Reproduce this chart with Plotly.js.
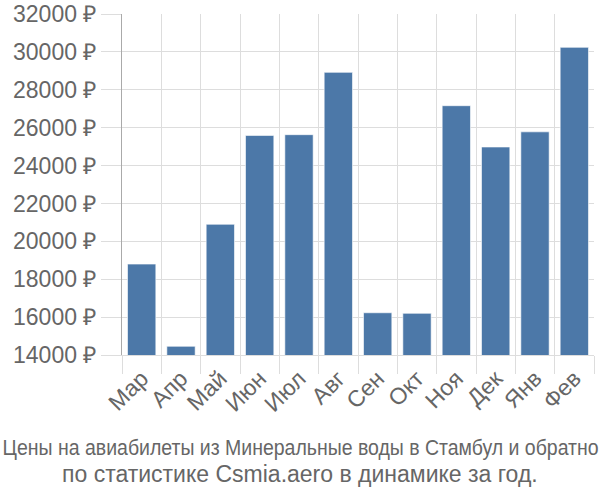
<!DOCTYPE html>
<html><head><meta charset="utf-8">
<script src="https://cdn.plot.ly/plotly-3.0.1.min.js"></script>
<style>html,body{margin:0;padding:0;background:#fff}</style>
</head><body><div id="chart" style="width:600px;height:500px"></div>
<script>
const months = ['Мар','Апр','Май','Июн','Июл','Авг','Сен','Окт','Ноя','Дек','Янв','Фев'];
const prices = [18800, 14460, 20900, 25590, 25630, 28920, 16230, 16200, 27160, 24980, 25780, 30240];
const yTicks = [14000,16000,18000,20000,22000,24000,26000,28000,30000,32000];
const titleLine1 = 'Цены на авиабилеты из Минеральные воды в Стамбул и обратно';
const titleLine2 = 'по статистике Csmia.aero в динамике за год.';

const idx = months.map((_, i) => i);
const bounds = months.map((_, i) => i - 0.5).concat([months.length - 0.5]);
const font = 'Liberation Sans, Arial, sans-serif';

const data = [{
  type: 'bar', x: idx, y: prices, base: 0,
  marker: {color: '#4c78a8', line: {color: 'rgba(255,255,255,0.6)', width: 1}},
  hoverinfo: 'none'
}];
data.push({type: 'scatter', x: [0], y: [14000], xaxis: 'x2', yaxis: 'y', mode: 'markers', marker: {opacity: 0}, hoverinfo: 'none'});

const cx = (300 - 122) / 472;

const layout = {
  width: 600, height: 500,
  margin: {l: 122, r: 6, t: 14, b: 145},
  paper_bgcolor: '#fff', plot_bgcolor: '#fff',
  showlegend: false, bargap: 0.28,
  font: {family: font, color: '#666'},
  xaxis: {
    type: 'linear', range: [-0.5, months.length - 0.5],
    tickvals: idx, ticktext: months, tickangle: -45,
    showgrid: false, zeroline: false, ticks: '',
    showline: true, linecolor: '#ddd', linewidth: 1,
    tickfont: {size: 23, color: '#666', family: font}
  },
  xaxis2: {
    overlaying: 'x', anchor: 'y', side: 'bottom',
    type: 'linear', range: [-0.5, months.length - 0.5],
    tickvals: bounds, showticklabels: false,
    showgrid: true, gridcolor: '#ddd', gridwidth: 1,
    ticks: 'outside', ticklen: 18, tickcolor: '#ddd', zeroline: false
  },
  yaxis: {
    range: [14000, 32000], tickvals: yTicks,
    ticktext: yTicks.map(v => v + ' ₽'),
    showgrid: true, gridcolor: '#ddd', gridwidth: 1,
    ticks: 'outside', ticklen: 20, tickcolor: '#ddd',
    showline: true, linecolor: '#aaa', linewidth: 1, zeroline: false,
    tickfont: {size: 23, color: '#666', family: font}
  },
  annotations: [
    {text: titleLine1, xref: 'paper', yref: 'paper', x: cx, xanchor: 'center',
     y: -0.27, yanchor: 'middle', showarrow: false,
     font: {size: 22, color: '#666', family: font}},
    {text: titleLine2, xref: 'paper', yref: 'paper', x: cx, xanchor: 'center',
     y: -0.35, yanchor: 'middle', showarrow: false,
     font: {size: 23, color: '#666', family: font}}
  ]
};

Plotly.newPlot('chart', data, layout, {staticPlot: true}).then(gd => {
  const t = gd.querySelector('.annotation-text');
  if (t) {
    t.setAttribute('textLength', '596');
    t.setAttribute('lengthAdjust', 'spacingAndGlyphs');
  }
});
</script></body></html>
